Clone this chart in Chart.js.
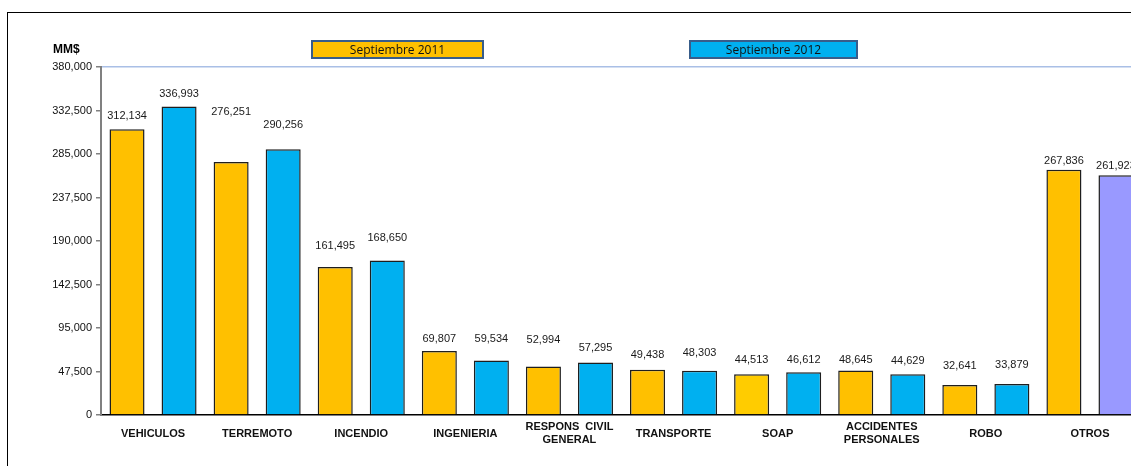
<!DOCTYPE html>
<html>
<head>
<meta charset="utf-8">
<script src="https://cdn.jsdelivr.net/npm/chart.js@4/dist/chart.umd.min.js"></script>
<style>
  html, body { margin: 0; padding: 0; overflow: hidden; background: #fff; width: 1131px; height: 466px; }
  #wrap { position: absolute; left: 0; top: 0; width: 1150px; height: 466px; }
  #frame { position: absolute; left: 7px; top: 12px; width: 2000px; height: 2000px;
           border-top: 1px solid #000; border-left: 1px solid #000; pointer-events: none; }
  #unit { position: absolute; left: 53px; top: 42px; font: bold 12px "Liberation Sans", Arial, sans-serif; }
  .key { position: absolute; top: 40px; height: 15px; border: 2px solid #385D8A;
         font: 12px "Open Sans", "Liberation Sans", sans-serif; line-height: 15px;
         text-align: center; color: #111; }
</style>
</head>
<body>
<div id="wrap"><canvas id="chart" width="1150" height="466"></canvas></div>
<div id="frame"></div>
<div id="unit">MM$</div>
<div id="keys"></div>
<script>
const categories = ["VEHICULOS", "TERREMOTO", "INCENDIO", "INGENIERIA", ["RESPONS  CIVIL", "GENERAL"],
  "TRANSPORTE", "SOAP", ["ACCIDENTES", "PERSONALES"], "ROBO", "OTROS"];
const sept2011 = [312134, 276251, 161495, 69807, 52994, 49438, 44513, 48645, 32641, 267836];
const sept2012 = [336993, 290256, 168650, 59534, 57295, 48303, 46612, 44629, 33879, 261923];
const yTicks = [0, 47500, 95000, 142500, 190000, 237500, 285000, 332500, 380000];

// colours per bar (SOAP 2011 and OTROS 2012 differ in the original)
const colors2011 = ["#FFC000", "#FFC000", "#FFC000", "#FFC000", "#FFC000", "#FFC000", "#FFCC00", "#FFC000", "#FFC000", "#FFC000"];
const colors2012 = ["#00B0F0", "#00B0F0", "#00B0F0", "#00B0F0", "#00B0F0", "#00B0F0", "#00B0F0", "#00B0F0", "#00B0F0", "#9999FF"];
// how far above each bar its value label sits (px), as placed in the original
const lift2011 = [13, 50, 21, 12, 26, 15, 14, 10, 19, 9];
const lift2012 = [12, 24, 23, 22, 15, 18, 12, 13, 19, 9];

const fmt = v => v.toLocaleString("en-US");

const valueLabels = {
  id: "valueLabels",
  afterDatasetsDraw(chart) {
    const ctx = chart.ctx;
    ctx.save();
    ctx.font = "11px 'Liberation Sans', Arial, sans-serif";
    ctx.fillStyle = "#1a1a1a";
    ctx.textAlign = "center";
    ctx.textBaseline = "middle";
    chart.data.datasets.forEach((ds, di) => {
      chart.getDatasetMeta(di).data.forEach((bar, i) => {
        ctx.fillText(fmt(ds.data[i]), bar.x, bar.y - ds.lift[i]);
      });
    });
    ctx.restore();
  }
};

const datasets = [
  { label: "Septiembre 2011", data: sept2011, backgroundColor: colors2011, lift: lift2011, keyLeft: 311, keyWidth: 169 },
  { label: "Septiembre 2012", data: sept2012, backgroundColor: colors2012, lift: lift2012, keyLeft: 689, keyWidth: 165 }
];

// legend boxes
const keys = document.getElementById("keys");
datasets.forEach(ds => {
  const d = document.createElement("div");
  d.className = "key";
  d.style.left = ds.keyLeft + "px";
  d.style.width = ds.keyWidth + "px";
  d.style.background = ds.backgroundColor[0];
  d.textContent = ds.label;
  keys.appendChild(d);
});

new Chart(document.getElementById("chart").getContext("2d"), {
  type: "bar",
  data: {
    labels: categories,
    datasets: datasets.map(ds => ({
      label: ds.label,
      data: ds.data,
      lift: ds.lift,
      backgroundColor: ds.backgroundColor,
      borderColor: "#1e1e1e",
      borderWidth: 1.5,
      barPercentage: 0.673,
      categoryPercentage: 1.0
    }))
  },
  options: {
    responsive: false,
    animation: false,
    layout: { padding: { top: 67, right: 8, left: 0, bottom: 0 } },
    plugins: { legend: { display: false }, tooltip: { enabled: false } },
    scales: {
      x: {
        grid: { display: false },
        border: { color: "#000", width: 1.5 },
        ticks: {
          color: "#111",
          crossAlign: "center",
          padding: 4,
          maxRotation: 0,
          autoSkip: false,
          font: { family: "'Liberation Sans', Arial, sans-serif", size: 11, weight: "bold" }
        },
        afterFit: s => { s.height = 51; }
      },
      y: {
        min: 0,
        max: 380000,
        afterBuildTicks: s => { s.ticks = yTicks.map(v => ({ value: v })); },
        grid: {
          color: c => c.tick && c.tick.value === 380000 ? "#A9BFE6" : "rgba(0,0,0,0)",
          tickColor: "#808080",
          tickLength: 5,
          lineWidth: 1.5
        },
        border: { color: "#808080", width: 2 },
        ticks: {
          color: "#111",
          padding: 4,
          callback: v => fmt(v),
          font: { family: "'Liberation Sans', Arial, sans-serif", size: 11 }
        },
        afterFit: s => { s.width = 101; }
      }
    }
  },
  plugins: [valueLabels]
});
</script>
</body>
</html>
